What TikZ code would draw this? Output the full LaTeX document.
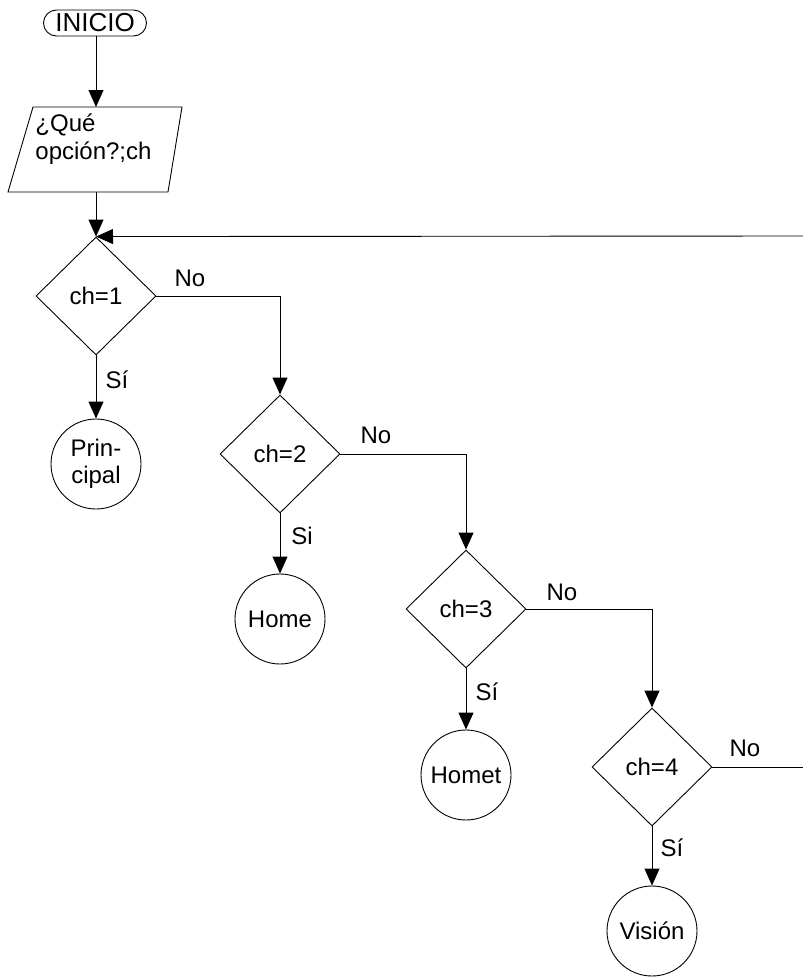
\documentclass[tikz,border=0pt]{standalone}
\usepackage{fontspec}
\setmainfont{Liberation Sans}
\usetikzlibrary{shapes.geometric,arrows.meta}
\begin{document}
\begin{tikzpicture}[x=1pt,y=-1pt, font=\fontsize{24}{27.5}\selectfont, line width=0.9pt,
  arr/.style={-{Triangle[width=15pt,length=17pt]}},
  dec/.style={diamond, draw, minimum width=120pt, minimum height=118pt, inner sep=0pt},
  term/.style={circle, draw, minimum size=90pt, inner sep=0pt, align=center},
  lbl/.style={inner sep=0pt}]
\useasboundingbox (0,0) rectangle (803,977);

% start
\node[draw, rounded corners=13pt, minimum width=103pt, minimum height=26pt, inner sep=0pt,
  font=\fontsize{26}{28}\selectfont] (ini) at (95,23) {INICIO};

% input parallelogram
\coordinate (pa) at (33,107);
\coordinate (pb) at (182,107);
\coordinate (pc) at (168,192);
\coordinate (pd) at (8,192);
\draw (pa) -- (pb) -- (pc) -- (pd) -- cycle;
\node[align=left, anchor=west, inner sep=0pt] (inp) at (35,139) {¿Qué\\opción?;ch};
\coordinate (ptop) at (96,107);
\coordinate (pbot) at (96,192);

% decisions
\node[dec] (d1) at (96,296) {ch=1};
\node[dec] (d2) at (280,454) {ch=2};
\node[dec] (d3) at (466,609) {ch=3};
\node[dec] (d4) at (652,767) {ch=4};

% terminals
\node[term] (c1) at (96,464) {Prin-\\cipal};
\node[term] (c2) at (280,619) {Home};
\node[term] (c3) at (466,775) {Homet};
\node[term] (c4) at (652,931) {Visión};

% flow
\draw[arr] (ini.south -| ptop) -- (ptop);
\draw[arr] (pbot) -- (d1.north);
\coordinate (loopR) at (803,236);
\draw[arr] (loopR) -- (d1.north);

\draw[arr] (d1.east) -| (d2.north);
\draw[arr] (d2.east) -| (d3.north);
\draw[arr] (d3.east) -| (d4.north);
\coordinate (exitR) at (803,767);
\draw (d4.east) -- (exitR);

\draw[arr] (d1.south) -- (c1.north);
\draw[arr] (d2.south) -- (c2.north);
\draw[arr] (d3.south) -- (c3.north);
\draw[arr] (d4.south) -- (c4.north);

% labels
\node[lbl] (n1) at (190,278) {No};
\node[lbl] (n2) at (376,435) {No};
\node[lbl] (n3) at (562,592) {No};
\node[lbl] (n4) at (745,748) {No};
\node[lbl] (s1) at (117,380) {Sí};
\node[lbl] (s2) at (302,536) {Si};
\node[lbl] (s3) at (487,692) {Sí};
\node[lbl] (s4) at (672,848) {Sí};
\end{tikzpicture}
\end{document}
